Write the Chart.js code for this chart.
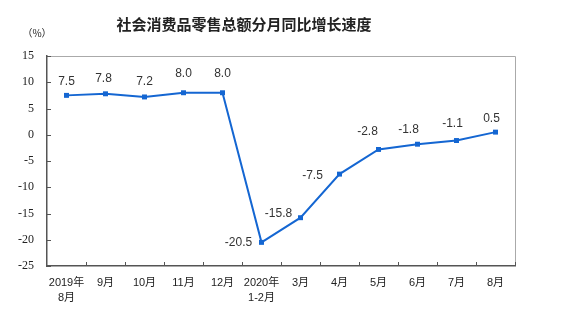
<!DOCTYPE html>
<html>
<head>
<meta charset="utf-8">
<script src="https://cdn.jsdelivr.net/npm/chart.js@4/dist/chart.umd.min.js"></script>
<style>
  html, body { margin: 0; padding: 0; background: #fff; }
  #wrap { width: 578px; height: 322px; }
</style>
</head>
<body>
<div id="wrap"><canvas id="growthChart"></canvas></div>
<script>
const title = '社会消费品零售总额分月同比增长速度';
const unitLabel = '（%）';
const months = [
    ['2019年', '8月'], '9月', '10月', '11月', '12月',
    ['2020年', '1-2月'], '3月', '4月', '5月', '6月', '7月', '8月'
];
const growth = [7.5, 7.8, 7.2, 8.0, 8.0, -20.5, -15.8, -7.5, -2.8, -1.8, -1.1, 0.5];
const yTicks = [15, 10, 5, 0, -5, -10, -15, -20, -25];

// where each value label sits relative to its point: [dx, dy]
const labelOffsets = [
    [0, -14], [-2, -15], [0, -15], [0, -19], [0, -19], [-23, 0],
    [-22, -4], [-27, 2], [-11, -18], [-9, -15], [-4, -17], [-4, -13]
];

const blue = '#1466d2';
const axisColor = '#555';

const decorPlugin = {
    id: 'decor',
    afterDraw(chart) {
        const ctx = chart.ctx;
        const area = chart.chartArea;
        const x = chart.scales.x;
        const y = chart.scales.y;
        ctx.save();

        // title and unit
        ctx.fillStyle = '#222';
        ctx.textAlign = 'center';
        ctx.textBaseline = 'middle';
        ctx.font = 'bold 15px "Noto Sans CJK SC"';
        ctx.fillText(title, 244, 24);
        ctx.font = '10px "Noto Sans CJK SC"';
        ctx.fillText(unitLabel, 37, 33);

        // top and right frame
        ctx.strokeStyle = '#aaa';
        ctx.lineWidth = 1;
        ctx.beginPath();
        ctx.moveTo(area.left, area.top + 0.5);
        ctx.lineTo(area.right + 0.5, area.top + 0.5);
        ctx.lineTo(area.right + 0.5, area.bottom);
        ctx.stroke();

        // inward tick marks
        ctx.strokeStyle = axisColor;
        ctx.beginPath();
        yTicks.forEach(v => {
            const py = Math.round(y.getPixelForValue(v)) + 0.5;
            ctx.moveTo(area.left, py);
            ctx.lineTo(area.left + 4, py);
        });
        for (let i = 1; i <= months.length; i++) {
            const px = Math.round(x.getPixelForValue(i - 0.5)) + 0.5;
            ctx.moveTo(px, area.bottom);
            ctx.lineTo(px, area.bottom - 4);
        }
        ctx.stroke();

        // value labels
        const meta = chart.getDatasetMeta(0);
        ctx.fillStyle = '#333';
        ctx.font = '12px "Liberation Sans", Arial, sans-serif';
        ctx.textAlign = 'center';
        ctx.textBaseline = 'middle';
        meta.data.forEach((pt, i) => {
            const off = labelOffsets[i];
            ctx.fillText(growth[i].toFixed(1), pt.x + off[0], pt.y + off[1]);
        });
        ctx.restore();
    }
};

new Chart(document.getElementById('growthChart'), {
    type: 'line',
    data: {
        labels: months,
        datasets: [{
            data: growth,
            borderColor: blue,
            backgroundColor: blue,
            borderWidth: 2,
            pointStyle: 'rect',
            pointRadius: 3.5,
            pointBorderWidth: 0,
            tension: 0
        }]
    },
    options: {
        responsive: true,
        maintainAspectRatio: false,
        animation: false,
        layout: { padding: { left: 0, top: 56, right: 63, bottom: 0 } },
        plugins: {
            legend: { display: false },
            tooltip: { enabled: false }
        },
        scales: {
            x: {
                type: 'category',
                offset: true,
                grid: { display: false, drawTicks: false },
                border: { display: true, color: axisColor, width: 1.5 },
                ticks: {
                    color: '#222',
                    padding: 10,
                    maxRotation: 0,
                    autoSkip: false,
                    font: { family: '"Liberation Sans", "Noto Sans CJK SC"', size: 11, lineHeight: 1.35 }
                },
                afterFit(scale) { scale.height = 56; }
            },
            y: {
                min: -25,
                max: 15,
                grid: { display: false, drawTicks: false },
                border: { display: true, color: axisColor, width: 1.5 },
                ticks: {
                    stepSize: 5,
                    color: '#222',
                    padding: 13,
                    font: { family: '"Liberation Serif", serif', size: 12 }
                },
                afterFit(scale) { scale.width = 47; }
            }
        }
    },
    plugins: [decorPlugin]
});
</script>
</body>
</html>
